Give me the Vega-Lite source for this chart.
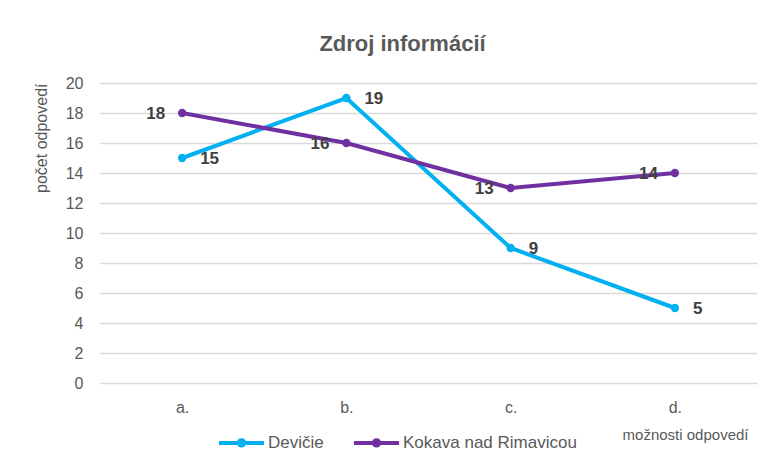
{
  "$schema": "https://vega.github.io/schema/vega-lite/v6.json",
  "width": 657,
  "height": 300,
  "autosize": {"type": "none"},
  "padding": {"left": 100, "top": 83, "right": 12, "bottom": 90},
  "background": "white",
  "config": {"view": {"stroke": null}, "font": "Liberation Sans"},
  "title": {
    "text": "Zdroj informácií",
    "font": "Liberation Sans",
    "fontSize": 22,
    "fontWeight": "bold",
    "color": "#595959",
    "anchor": "middle",
    "dx": -26,
    "offset": 19
  },
  "data": {
    "values": [
      {"moznost": "a.", "obec": "Devičie", "pocet": 15},
      {"moznost": "b.", "obec": "Devičie", "pocet": 19},
      {"moznost": "c.", "obec": "Devičie", "pocet": 9},
      {"moznost": "d.", "obec": "Devičie", "pocet": 5},
      {"moznost": "a.", "obec": "Kokava nad Rimavicou", "pocet": 18},
      {"moznost": "b.", "obec": "Kokava nad Rimavicou", "pocet": 16},
      {"moznost": "c.", "obec": "Kokava nad Rimavicou", "pocet": 13},
      {"moznost": "d.", "obec": "Kokava nad Rimavicou", "pocet": 14}
    ]
  },
  "encoding": {
    "x": {
      "field": "moznost",
      "type": "ordinal",
      "scale": {"type": "point", "padding": 0.5},
      "axis": {
        "labelAngle": 0,
        "labelFontSize": 16,
        "labelColor": "#595959",
        "labelPadding": 16,
        "ticks": false,
        "domain": false,
        "grid": false,
        "title": "možnosti odpovedí",
        "titleFontSize": 15,
        "titleFontWeight": "normal",
        "titleColor": "#595959",
        "titleX": 648,
        "titleY": 56,
        "titleAlign": "right",
        "titleBaseline": "alphabetic"
      }
    },
    "y": {
      "field": "pocet",
      "type": "quantitative",
      "scale": {"domain": [0, 20], "nice": false},
      "axis": {
        "values": [0, 2, 4, 6, 8, 10, 12, 14, 16, 18, 20],
        "labelFontSize": 16,
        "labelColor": "#595959",
        "labelPadding": 17,
        "ticks": false,
        "domain": false,
        "grid": true,
        "gridColor": "#D9D9D9",
        "gridWidth": 1.5,
        "title": "počet odpovedí",
        "titleFontSize": 16,
        "titleFontWeight": "normal",
        "titleColor": "#595959",
        "titleAngle": -90,
        "titleX": -59,
        "titleY": 0,
        "titleAlign": "right",
        "titleBaseline": "middle"
      }
    }
  },
  "layer": [
    {
      "mark": {"type": "line", "strokeWidth": 4, "point": {"filled": true, "size": 70}},
      "encoding": {
        "color": {
          "field": "obec",
          "type": "nominal",
          "scale": {"domain": ["Devičie", "Kokava nad Rimavicou"], "range": ["#00B0F0", "#7030A0"]},
          "legend": {
            "orient": "none",
            "legendX": 117,
            "legendY": 335,
            "direction": "horizontal",
            "title": null,
            "labelFontSize": 17,
            "labelColor": "#595959",
            "labelOffset": 2,
            "labelLimit": 300,
            "columnPadding": 22,
            "symbolType": "M-1,0H1M0,-0.12A0.12,0.12 0 1 1 0,0.12A0.12,0.12 0 1 1 0,-0.12",
            "symbolSize": 2025,
            "symbolStrokeWidth": 4
          }
        }
      }
    },
    {
      "transform": [{"filter": "datum.obec === 'Devičie'"}],
      "mark": {
        "type": "text",
        "align": "left",
        "baseline": "middle",
        "dx": 18,
        "dy": 1,
        "font": "Liberation Sans",
        "fontSize": 17,
        "fontWeight": "bold",
        "color": "#404040"
      },
      "encoding": {"text": {"field": "pocet", "type": "quantitative"}}
    },
    {
      "transform": [{"filter": "datum.obec !== 'Devičie'"}],
      "mark": {
        "type": "text",
        "align": "right",
        "baseline": "middle",
        "dx": -17,
        "dy": 1,
        "font": "Liberation Sans",
        "fontSize": 17,
        "fontWeight": "bold",
        "color": "#404040"
      },
      "encoding": {"text": {"field": "pocet", "type": "quantitative"}}
    }
  ]
}
